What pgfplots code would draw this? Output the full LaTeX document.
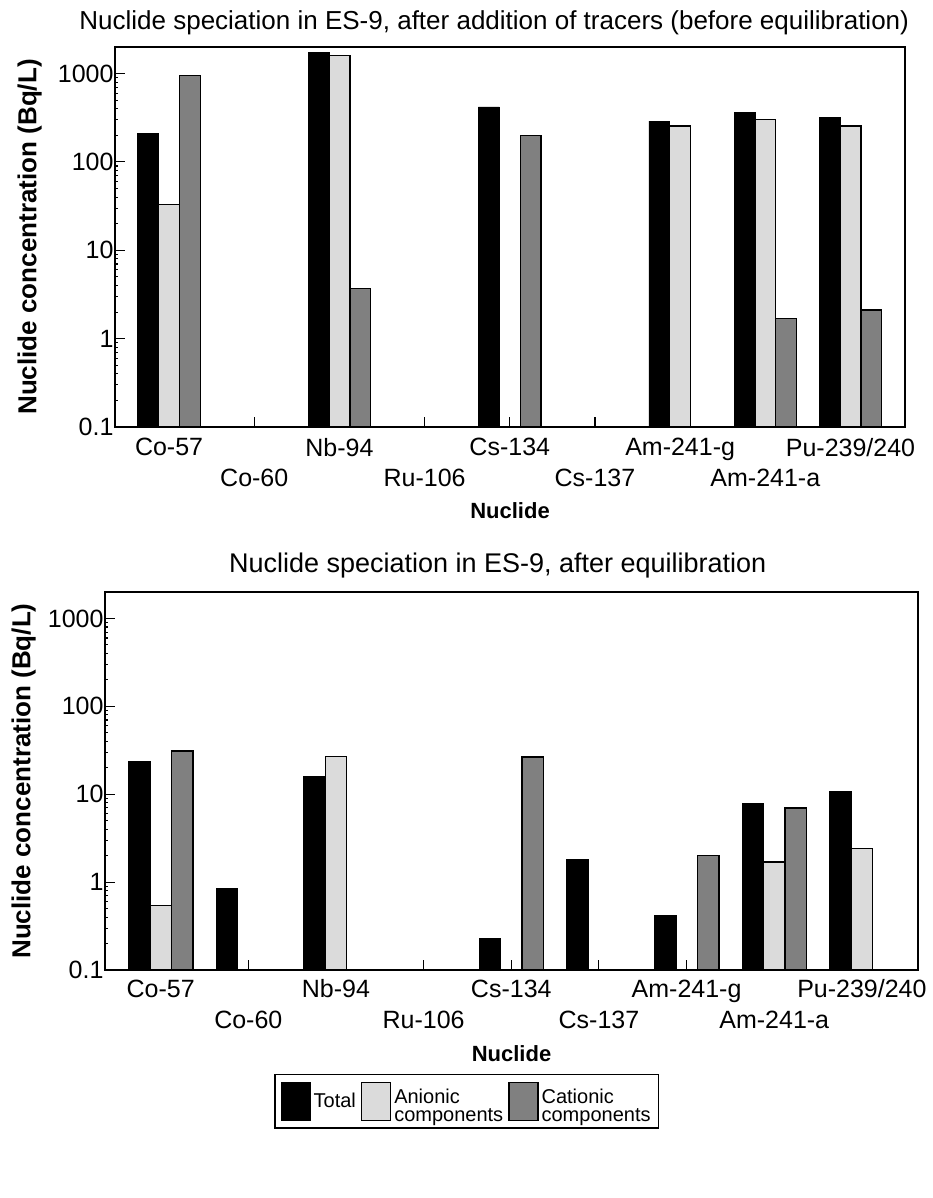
\documentclass[border=0pt]{standalone}
\usepackage{fontspec}
\setmainfont{Liberation Sans}
\usepackage{pgfplots}
\pgfplotsset{compat=1.18}
\definecolor{anicol}{gray}{0.86}
\definecolor{catcol}{gray}{0.50}
\newcommand{\twol}[2]{\renewcommand{\arraystretch}{0.8}\begin{tabular}{@{}l@{}}#1\\#2\end{tabular}}
\begin{document}
\begin{tikzpicture}
\useasboundingbox (0pt,0pt) rectangle (933pt,-1198pt);
\begin{axis}[
  ymode=log, log origin=infty, scale only axis, ybar,
  bar width=0.245,
  xmin=-0.635, xmax=8.64, ymin=0.1, ymax=2000,
  xtick={0,2,4,6,8},
  xticklabels={Co-57,Nb-94,Cs-134,Am-241-g,Pu-239/240},
  extra x ticks={1,3,5,7},
  extra x tick labels={Co-60,Ru-106,Cs-137,Am-241-a},
  extra x tick style={xticklabel style={yshift=-31pt}},
  ytick={0.1,1,10,100,1000},
  yticklabels={0.1,1,10,100,1000},
  minor ytick={},
  tick align=inside, xtick pos=bottom, ytick pos=left,
  major tick length=10pt,
  tick style={line width=1.1pt, black},
  axis line style={line width=1.6pt},
  ticklabel style={font=\fontsize{25}{25}\selectfont},
  xticklabel style={yshift=-8pt},
  yticklabel style={xshift=2pt},
  xlabel={\textbf{Nuclide}},
  xlabel style={font=\fontsize{22}{22}\selectfont, at={(axis description cs:0.5,0)}, anchor=north, yshift=-72pt},
  ylabel={\textbf{Nuclide concentration (Bq/L)}},
  ylabel style={font=\fontsize{26}{26}\selectfont, anchor=center, at={(axis description cs:-0.108,0.5)}},
  title style={font=\fontsize{26}{26}\selectfont, anchor=south, yshift=3pt, at={(axis description cs:0.48,1)}},
  width=790pt, height=380pt,
  at={(115pt,-427pt)}, anchor=south west,
  title={Nuclide speciation in ES-9, after addition of tracers (before equilibration)},
]
\addplot[fill=black, draw=black, line width=0.6pt, bar shift=-0.245] coordinates {(0,210) (2,1750) (4,420) (6,290) (7,360) (8,320)};
\addplot[fill=anicol, draw=black, line width=1.4pt, bar shift=0] coordinates {(0,33) (2,1600) (6,255) (7,300) (8,255)};
\addplot[fill=catcol, draw=black, line width=1.4pt, bar shift=0.245] coordinates {(0,950) (2,3.7) (4,200) (7,1.7) (8,2.1)};
\end{axis}
\begin{axis}[
  ymode=log, log origin=infty, scale only axis, ybar,
  bar width=0.245,
  xmin=-0.635, xmax=8.64, ymin=0.1, ymax=2000,
  xtick={0,2,4,6,8},
  xticklabels={Co-57,Nb-94,Cs-134,Am-241-g,Pu-239/240},
  extra x ticks={1,3,5,7},
  extra x tick labels={Co-60,Ru-106,Cs-137,Am-241-a},
  extra x tick style={xticklabel style={yshift=-31pt}},
  ytick={0.1,1,10,100,1000},
  yticklabels={0.1,1,10,100,1000},
  minor ytick={},
  tick align=inside, xtick pos=bottom, ytick pos=left,
  major tick length=10pt,
  tick style={line width=1.1pt, black},
  axis line style={line width=1.6pt},
  ticklabel style={font=\fontsize{25}{25}\selectfont},
  xticklabel style={yshift=-6pt},
  yticklabel style={xshift=2pt},
  xlabel={\textbf{Nuclide}},
  xlabel style={font=\fontsize{22}{22}\selectfont, at={(axis description cs:0.5,0)}, anchor=north, yshift=-72pt},
  ylabel={\textbf{Nuclide concentration (Bq/L)}},
  ylabel style={font=\fontsize{26}{26}\selectfont, anchor=center, at={(axis description cs:-0.1,0.5)}},
  title style={font=\fontsize{27}{27}\selectfont, anchor=south, yshift=4pt, at={(axis description cs:0.483,1)}},
  width=813pt, height=378pt,
  at={(105pt,-970pt)}, anchor=south west,
  title={Nuclide speciation in ES-9, after equilibration},
  legend columns=3,
  legend style={at={(axis description cs:0.445,-0.275)}, anchor=north,
    draw=black, line width=1.2pt, font=\fontsize{20}{21}\selectfont,
    inner xsep=6pt, inner ysep=7pt,
    /tikz/every odd column/.append style={column sep=1pt},
    /tikz/every even column/.append style={column sep=3pt}},
  legend cell align=left,
  legend image code/.code={\draw[#1] (0pt,-19pt) rectangle (29pt,19pt);},
]
\addplot[fill=black, draw=black, line width=0.6pt, bar shift=-0.245] coordinates {(0,23.5) (1,0.85) (2,16) (4,0.23) (5,1.8) (6,0.42) (7,7.8) (8,10.8)};
\addlegendentry{Total}
\addplot[fill=anicol, draw=black, line width=1.4pt, bar shift=0] coordinates {(0,0.54) (2,27) (7,1.7) (8,2.4)};
\addlegendentry{\twol{Anionic}{components}}
\addplot[fill=catcol, draw=black, line width=1.4pt, bar shift=0.245] coordinates {(0,31) (4,26.5) (6,2.0) (7,7.0)};
\addlegendentry{\twol{Cationic}{components}}
\end{axis}
\end{tikzpicture}
\end{document}
